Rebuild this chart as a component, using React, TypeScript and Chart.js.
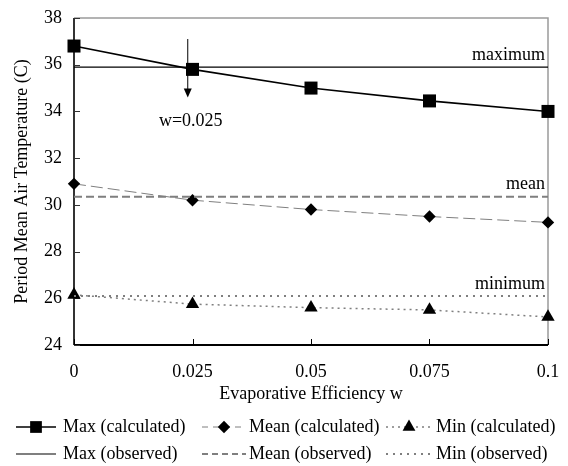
import { useEffect, useRef } from "react";
import { Chart, registerables } from "chart.js";

Chart.register(...registerables);

// ---- data ----
const wValues = [0, 0.025, 0.05, 0.075, 0.1];
const maxCalculated = [36.8, 35.8, 35.0, 34.45, 34.0];
const meanCalculated = [30.9, 30.2, 29.8, 29.5, 29.25];
const minCalculated = [26.15, 25.75, 25.6, 25.5, 25.2];
const maxObserved = 35.9;
const meanObserved = 30.35;
const minObserved = 26.1;
const yMin = 24;
const yMax = 38;
const yStep = 2;
const legendLabels = [
  "Max (calculated)",
  "Mean (calculated)",
  "Min (calculated)",
  "Max (observed)",
  "Mean (observed)",
  "Min (observed)",
];
const observedLabels = ["maximum", "mean", "minimum"];
const arrowLabel = "w=0.025";
const arrowW = 0.024;
const arrowTop = 37.1;
const arrowTip = 34.6;
const xTitle = "Evaporative Efficiency w";
const yTitle = "Period Mean Air Temperature (C)";

const FONT = '"Liberation Serif", "Times New Roman", serif';
const GRAY = "#7f7f7f";

type Style = {
  color: string;
  width: number;
  dash: number[];
  marker: string | null;
  radius: number;
  legendRadius: number;
};

const styles: Style[] = [
  { color: "#000", width: 1.6, dash: [], marker: "rect", radius: 9.2, legendRadius: 8.3 },
  { color: GRAY, width: 1, dash: [12, 5], marker: "rectRot", radius: 6.2, legendRadius: 6.2 },
  { color: GRAY, width: 1.5, dash: [2, 4], marker: "triangle", radius: 7.7, legendRadius: 7.4 },
  { color: "#000", width: 1.2, dash: [], marker: null, radius: 0, legendRadius: 0 },
  { color: GRAY, width: 2, dash: [8, 4], marker: null, radius: 0, legendRadius: 0 },
  { color: GRAY, width: 2, dash: [2, 5], marker: null, radius: 0, legendRadius: 0 },
];

function drawMarker(ctx: CanvasRenderingContext2D, kind: string, r: number, x: number, y: number) {
  ctx.save();
  ctx.fillStyle = "#000";
  ctx.beginPath();
  if (kind === "rect") {
    const s = r * Math.SQRT1_2;
    ctx.rect(x - s, y - s, 2 * s, 2 * s);
  } else if (kind === "rectRot") {
    ctx.moveTo(x, y - r);
    ctx.lineTo(x + r, y);
    ctx.lineTo(x, y + r);
    ctx.lineTo(x - r, y);
    ctx.closePath();
  } else if (kind === "triangle") {
    ctx.moveTo(x, y - r);
    ctx.lineTo(x + r * Math.sin(Math.PI / 3), y + r * 0.5);
    ctx.lineTo(x - r * Math.sin(Math.PI / 3), y + r * 0.5);
    ctx.closePath();
  }
  ctx.fill();
  ctx.restore();
}

const framePlugin = {
  id: "frame",
  beforeDatasetsDraw(chart: any) {
    const { ctx, chartArea } = chart;
    const { left, right, top, bottom } = chartArea;
    const xs = chart.scales.x;
    const ys = chart.scales.y;
    ctx.save();
    ctx.strokeStyle = "#9a9a9a";
    ctx.lineWidth = 1.5;
    ctx.beginPath();
    ctx.moveTo(left, top);
    ctx.lineTo(right, top);
    ctx.lineTo(right, bottom);
    ctx.stroke();
    ctx.strokeStyle = "#333";
    ctx.lineWidth = 2;
    ctx.beginPath();
    ctx.moveTo(left, top);
    ctx.lineTo(left, bottom);
    ctx.stroke();
    ctx.strokeStyle = "#000";
    ctx.beginPath();
    ctx.moveTo(left, bottom);
    ctx.lineTo(right, bottom);
    ctx.stroke();
    ctx.lineWidth = 1;
    ctx.strokeStyle = "#333";
    for (let v = yMin; v <= yMax; v += yStep) {
      const py = Math.round(ys.getPixelForValue(v)) + 0.5;
      ctx.beginPath();
      ctx.moveTo(left, py);
      ctx.lineTo(left + 6, py);
      ctx.stroke();
    }
    ctx.strokeStyle = "#000";
    for (const w of wValues) {
      const px = Math.round(xs.getPixelForValue(w)) + 0.5;
      ctx.beginPath();
      ctx.moveTo(px, bottom);
      ctx.lineTo(px, bottom - 6);
      ctx.stroke();
    }
    ctx.restore();
  },
  afterDraw(chart: any) {
    const { ctx, chartArea } = chart;
    const xs = chart.scales.x;
    const ys = chart.scales.y;
    ctx.save();
    ctx.font = `18px ${FONT}`;
    ctx.fillStyle = "#000";
    ctx.textBaseline = "middle";
    ctx.textAlign = "right";
    const obs = [maxObserved, meanObserved, minObserved];
    obs.forEach((v, i) => {
      ctx.fillText(observedLabels[i], chartArea.right - 3, ys.getPixelForValue(v) - 12);
    });
    const ax = xs.getPixelForValue(arrowW);
    const y0 = ys.getPixelForValue(arrowTop);
    const y1 = ys.getPixelForValue(arrowTip);
    ctx.strokeStyle = "#000";
    ctx.lineWidth = 1;
    ctx.beginPath();
    ctx.moveTo(ax, y0);
    ctx.lineTo(ax, y1 - 8);
    ctx.stroke();
    ctx.beginPath();
    ctx.moveTo(ax, y1);
    ctx.lineTo(ax - 4, y1 - 9);
    ctx.lineTo(ax + 4, y1 - 9);
    ctx.closePath();
    ctx.fill();
    ctx.textAlign = "center";
    ctx.fillText(arrowLabel, ax + 3, y1 + 24);

    const rows = [427, 454];
    const cols = [
      { s: 16, e: 56, t: 63 },
      { s: 202, e: 246, t: 249 },
      { s: 386, e: 432, t: 436 },
    ];
    ctx.textAlign = "left";
    legendLabels.forEach((lab, i) => {
      const row = Math.floor(i / 3);
      const col = cols[i % 3];
      const st = styles[i];
      const y = rows[row];
      ctx.save();
      ctx.strokeStyle = st.color;
      ctx.lineWidth = st.width;
      ctx.setLineDash(st.dash.length ? [Math.min(st.dash[0], 6), st.dash[1]] : []);
      ctx.beginPath();
      ctx.moveTo(col.s, y);
      ctx.lineTo(col.e, y);
      ctx.stroke();
      ctx.restore();
      if (st.marker) drawMarker(ctx, st.marker, st.legendRadius, (col.s + col.e) / 2, y);
      ctx.fillStyle = "#000";
      ctx.fillText(lab, col.t, y);
    });
    ctx.restore();
  },
};

export default function App() {
  const ref = useRef<HTMLCanvasElement>(null);
  useEffect(() => {
    const canvas = ref.current;
    if (!canvas) return;
    const pts = (ys: number[]) => wValues.map((x, i) => ({ x, y: ys[i] }));
    const flat = (y: number) => [
      { x: wValues[0], y },
      { x: wValues[wValues.length - 1], y },
    ];
    const mk = (i: number, data: any[]) => {
      const st = styles[i];
      return {
        label: legendLabels[i],
        data,
        showLine: true,
        clip: false as any,
        borderColor: st.color,
        borderWidth: st.width,
        borderDash: st.dash,
        pointStyle: st.marker || "circle",
        pointRadius: st.radius,
        pointBackgroundColor: "#000",
        pointBorderColor: "#000",
        pointBorderWidth: 0,
        pointHoverRadius: st.radius,
      };
    };
    const chart = new Chart(canvas, {
      type: "scatter",
      data: {
        datasets: [
          mk(3, flat(maxObserved)),
          mk(4, flat(meanObserved)),
          mk(5, flat(minObserved)),
          mk(1, pts(meanCalculated)),
          mk(2, pts(minCalculated)),
          mk(0, pts(maxCalculated)),
        ],
      },
      options: {
        animation: false,
        responsive: true,
        maintainAspectRatio: false,
        events: [],
        layout: { padding: { top: 18, right: 20, bottom: 61, left: 0 } },
        plugins: {
          legend: { display: false },
          tooltip: { enabled: false },
        },
        scales: {
          x: {
            type: "linear",
            min: 0,
            max: 0.1,
            grid: { display: false, drawTicks: false },
            border: { display: false },
            afterBuildTicks: (s: any) => {
              s.ticks = wValues.map((v) => ({ value: v }));
            },
            afterFit: (s: any) => {
              s.height = 60;
              s.paddingLeft = 0;
              s.paddingRight = 0;
            },
            ticks: {
              color: "#000",
              font: { family: FONT, size: 18 },
              padding: 16,
              maxRotation: 0,
              autoSkip: false,
              callback: (v: any) => String(v),
            },
            title: {
              display: true,
              text: xTitle,
              color: "#000",
              font: { family: FONT, size: 18 },
              padding: { top: 0, bottom: 0 },
            },
          },
          y: {
            type: "linear",
            min: yMin,
            max: yMax,
            grid: { display: false, drawTicks: false },
            border: { display: false },
            afterFit: (s: any) => {
              s.width = 74;
              s.paddingTop = 0;
              s.paddingBottom = 0;
            },
            ticks: {
              stepSize: yStep,
              color: "#000",
              font: { family: FONT, size: 18 },
              padding: 12,
            },
            title: {
              display: true,
              text: yTitle,
              color: "#000",
              font: { family: FONT, size: 18 },
              padding: { top: 11, bottom: 0 },
            },
          },
        },
      },
      plugins: [framePlugin],
    });
    return () => chart.destroy();
  }, []);
  return (
    <div style={{ position: "fixed", left: 0, top: 0, width: 568, height: 466, background: "#fff" }}>
      <canvas ref={ref} />
    </div>
  );
}
